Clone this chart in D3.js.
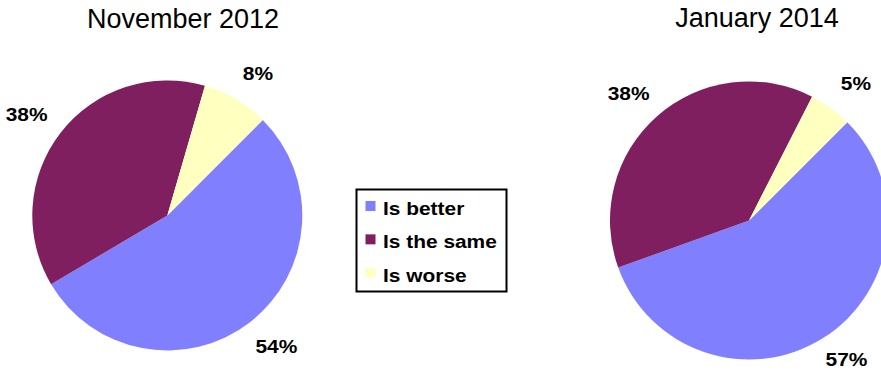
<!DOCTYPE html>
<html>
<head>
<meta charset="utf-8">
<script src="https://cdn.jsdelivr.net/npm/d3@7"></script>
<style>
  html, body { margin: 0; padding: 0; background: #fff; }
  svg { display: block; }
</style>
</head>
<body>
<div id="chart"></div>
<script>
// ---- data ----
const categories = ["Is better", "Is the same", "Is worse"];
const colors = ["#8080FF", "#801F5F", "#FFFFC0"];
const titles = ["November 2012", "January 2014"];
const nov2012 = [54, 38, 8];
const jan2014 = [57, 38, 5];
const seriesList = [nov2012, jan2014];

// ---- layout ----
const W = 881, H = 372;
const pies = [
  { cx: 167.3, cy: 215.5, r: 135, tx: 183, ty: 28 },
  { cx: 749, cy: 220.5, r: 139, tx: 757, ty: 27 }
];
const startDeg = 45;

const svg = d3.select("#chart").append("svg")
  .attr("width", W).attr("height", H)
  .style("font-family", "'Liberation Sans', Arial, sans-serif");

const color = d3.scaleOrdinal().domain(categories).range(colors);

const pieGen = d3.pie().sort(null).value(d => d.value)
  .startAngle(startDeg * Math.PI / 180)
  .endAngle((startDeg + 360) * Math.PI / 180);

seriesList.forEach((vals, i) => {
  const p = pies[i];
  const data = categories.map((c, j) => ({ cat: c, value: vals[j] }));
  const arcs = pieGen(data);
  const arc = d3.arc().innerRadius(0).outerRadius(p.r);
  const g = svg.append("g").attr("transform", `translate(${p.cx},${p.cy})`);
  g.selectAll("path").data(arcs).join("path")
    .attr("d", arc)
    .attr("fill", d => color(d.data.cat));

  const rx = p.r + 43, ry = p.r + 30;
  g.selectAll("g.lbl").data(arcs).join("g").attr("class", "lbl")
    .attr("transform", d => {
      const a = (d.startAngle + d.endAngle) / 2;
      const x = Math.sin(a) * rx;
      let y = -Math.cos(a) * ry;
      y = Math.min(y, H - 13 - p.cy);
      return `translate(${x},${y}) scale(1.1,1)`;
    })
    .append("text")
    .attr("text-anchor", "middle")
    .attr("dy", "0.35em")
    .attr("font-size", 19)
    .attr("font-weight", "bold")
    .attr("fill", "#000")
    .text(d => d.data.value + "%");

  svg.append("text")
    .attr("x", p.tx).attr("y", p.ty)
    .attr("text-anchor", "middle")
    .attr("font-size", 27)
    .attr("fill", "#000")
    .text(titles[i]);
});

// ---- legend ----
const legend = svg.append("g");
legend.append("rect")
  .attr("x", 356.5).attr("y", 189.5)
  .attr("width", 150).attr("height", 102)
  .attr("fill", "#fff").attr("stroke", "#000").attr("stroke-width", 2);

const rowY = d3.scalePoint().domain(categories).range([215, 281.7]);
const rows = legend.selectAll("g.row").data(categories).join("g").attr("class", "row");
rows.append("rect")
  .attr("x", 365.5).attr("y", d => rowY(d) - 14)
  .attr("width", 10).attr("height", 10)
  .attr("fill", d => color(d));
rows.append("g")
  .attr("transform", d => `translate(383,${rowY(d)}) scale(1.1,1)`)
  .append("text")
  .attr("font-size", 19)
  .attr("font-weight", "bold")
  .attr("fill", "#000")
  .text(d => d);
</script>
</body>
</html>
